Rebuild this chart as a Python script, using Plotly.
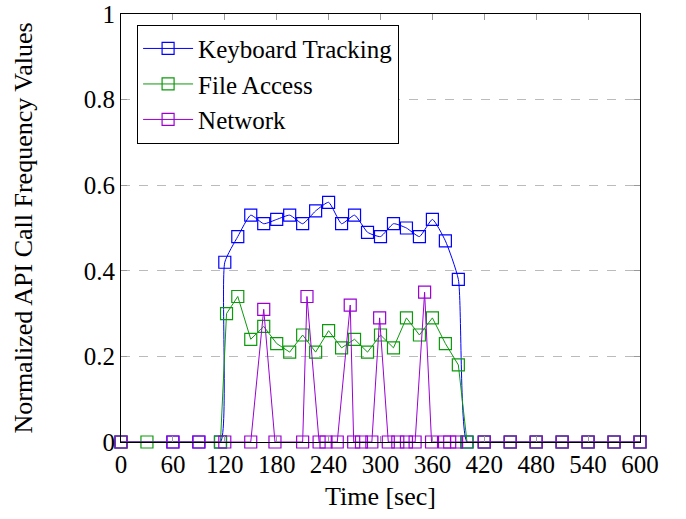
import plotly.graph_objects as go

# Keyboard Tracking
kb_t = [0, 60, 90, 115, 120, 135, 150, 165, 180, 195, 210, 225, 240, 255, 270, 285, 300,
        315, 330, 345, 360, 375, 390, 400, 420, 450, 480, 510, 540, 570, 600]
kb_v = [0, 0, 0, 0, 0.42, 0.48, 0.53, 0.51, 0.52, 0.53, 0.51, 0.54, 0.56, 0.51, 0.53, 0.49, 0.48,
        0.51, 0.50, 0.48, 0.52, 0.47, 0.38, 0, 0, 0, 0, 0, 0, 0, 0]

# File Access
fa_t = [0, 30, 115, 122, 135, 150, 165, 180, 195, 210, 225, 240, 255, 270, 285, 300,
        315, 330, 345, 360, 375, 390, 400, 420, 450, 480, 510, 540, 570, 600]
fa_v = [0, 0, 0, 0.30, 0.34, 0.24, 0.27, 0.23, 0.21, 0.25, 0.21, 0.26, 0.22, 0.24, 0.21, 0.25,
        0.22, 0.29, 0.25, 0.29, 0.23, 0.18, 0, 0, 0, 0, 0, 0, 0, 0]

# Network
nw_t = [0, 60, 90, 120, 150, 165, 178, 210, 215, 229, 237, 250, 265, 269, 278, 290, 299, 309,
        320, 330, 340, 351, 359, 374, 380, 388, 420, 450, 480, 510, 540, 570, 600]
nw_v = [0, 0, 0, 0, 0, 0.31, 0, 0, 0.34, 0, 0, 0, 0.32, 0, 0, 0, 0.29, 0,
        0, 0, 0, 0.35, 0, 0, 0, 0, 0, 0, 0, 0, 0, 0, 0]

x_ticks = list(range(0, 601, 60))
y_ticks = [0, 0.2, 0.4, 0.6, 0.8, 1]
y_tick_labels = ["0", "0.2", "0.4", "0.6", "0.8", "1"]

FONT = "Liberation Serif"

fig = go.Figure()
series = [
    ("Keyboard Tracking", kb_t, kb_v, "#0000ff", "spline"),
    ("File Access", fa_t, fa_v, "#0c9a0c", "linear"),
    ("Network", nw_t, nw_v, "#9a00d4", "linear"),
]
for name, t, v, col, shape in series:
    fig.add_trace(go.Scatter(
        x=t, y=v, name=name, mode="lines+markers",
        line=dict(color=col, width=1, shape=shape, smoothing=0.5 if shape == "spline" else None),
        marker=dict(symbol="square-open", size=12, color=col, line=dict(width=1.2, color=col)),
        cliponaxis=False,
    ))

fig.update_layout(
    width=686, height=519,
    margin=dict(l=121, r=46, t=14, b=77, autoexpand=False),
    paper_bgcolor="white", plot_bgcolor="white",
    font=dict(family=FONT, size=26, color="black"),
    showlegend=True,
    legend=dict(x=0.031, y=0.975, xanchor="left", yanchor="top",
                bordercolor="black", borderwidth=1, bgcolor="white",
                font=dict(family=FONT, size=25), itemwidth=50,
                tracegroupgap=0),
)
fig.update_xaxes(
    range=[0, 600], tickmode="array", tickvals=x_ticks,
    ticks="inside", ticklen=6, tickcolor="#999999", tickwidth=1,
    showline=True, linecolor="black", linewidth=1, mirror="ticks",
    showgrid=False, zeroline=False, automargin=False,
    title=dict(text="Time [sec]", standoff=9, font=dict(family=FONT, size=26)),
    tickfont=dict(family=FONT, size=25),
)
fig.update_yaxes(
    range=[0, 1], tickmode="array", tickvals=y_ticks, ticktext=y_tick_labels,
    ticks="inside", ticklen=6, tickcolor="#999999", tickwidth=1,
    showline=True, linecolor="black", linewidth=1, mirror="ticks",
    showgrid=True, gridcolor="#bbbbbb", griddash="dash", gridwidth=1,
    zeroline=False, automargin=False,
    title=dict(text="Normalized API Call Frequency Values", standoff=43,
               font=dict(family=FONT, size=26)),
    tickfont=dict(family=FONT, size=25),
)

# remove the browser's default body margin so the figure sits at the window's corner
fig.write_html("out.html", config={"displayModeBar": False},
               post_script="document.body.style.margin='0';")
